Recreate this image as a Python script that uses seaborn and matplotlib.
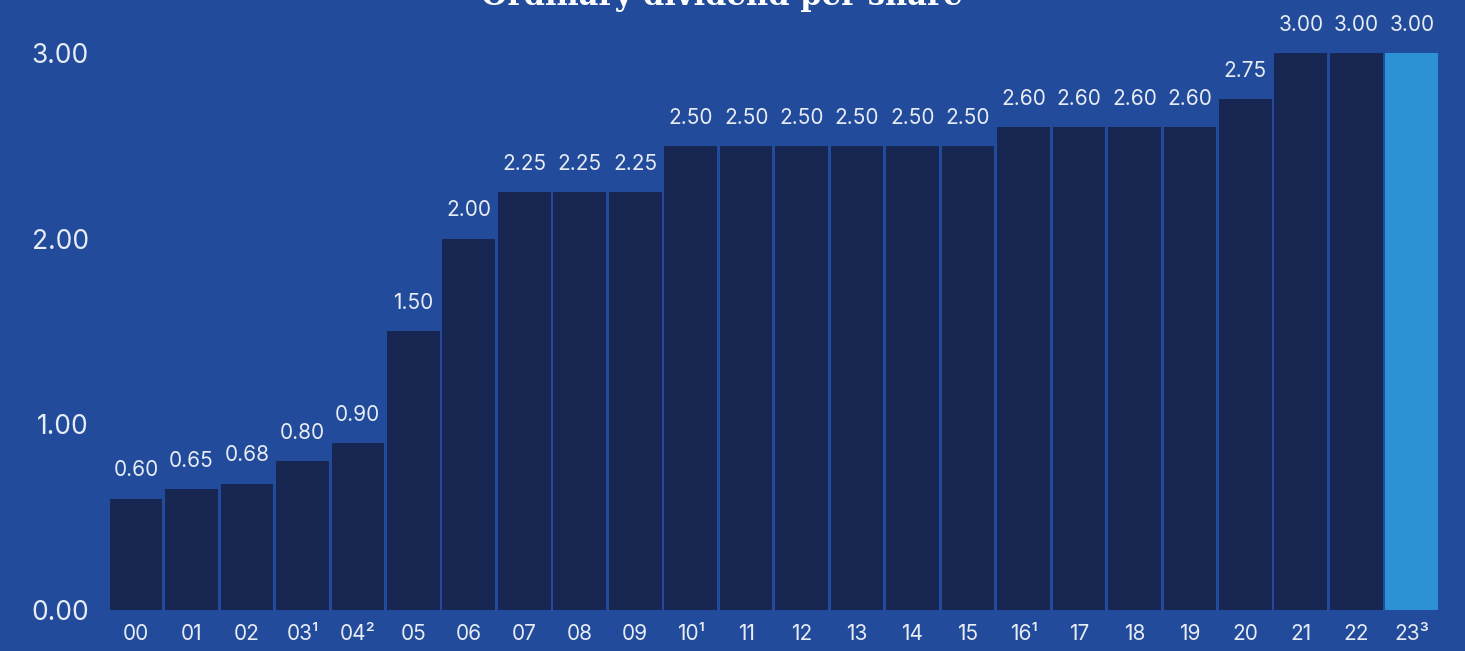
import matplotlib
matplotlib.use("Agg")
import matplotlib.pyplot as plt
import seaborn as sns
import pandas as pd

years = ["00", "01", "02", "03\u00b9", "04\u00b2", "05", "06", "07", "08", "09",
         "10\u00b9", "11", "12", "13", "14", "15", "16\u00b9", "17", "18", "19",
         "20", "21", "22", "23\u00b3"]
dividend = [0.60, 0.65, 0.68, 0.80, 0.90, 1.50, 2.00, 2.25, 2.25, 2.25,
            2.50, 2.50, 2.50, 2.50, 2.50, 2.50, 2.60, 2.60, 2.60, 2.60,
            2.75, 3.00, 3.00, 3.00]
y_ticks = [0, 1, 2, 3]

bg = "#224c9b"
navy = "#182652"
light = "#2c92d4"
txt = "#e8ecf4"

df = pd.DataFrame({"year": years, "dividend": dividend})
colors = [navy] * (len(years) - 1) + [light]

sns.set_theme(style="white")
plt.rcParams["font.family"] = ["Inter", "DejaVu Sans"]

fig = plt.figure(figsize=(14.65, 6.51), dpi=100, facecolor=bg)
ax = fig.add_axes([0.0739, 0.063, 0.9087, 0.937])
ax.set_facecolor(bg)

sns.barplot(data=df, x="year", y="dividend", hue="year", palette=colors,
            width=0.95, saturation=1, legend=False, linewidth=0, ax=ax)

for i, v in enumerate(dividend):
    ax.annotate(f"{v:.2f}", (i, v), xytext=(0, 16), textcoords="offset points",
                ha="center", va="baseline", color=txt, fontsize=15)

ax.set_xlim(-0.5, len(years) - 0.5)
ax.set_ylim(0, 3.285)
ax.set_yticks(y_ticks)
ax.set_yticklabels([f"{t:.2f}" for t in y_ticks])
ax.tick_params(axis="y", labelsize=19, colors=txt, length=0, pad=14)
ax.tick_params(axis="x", labelsize=15, colors=txt, length=0, pad=10)
ax.set_xlabel("")
ax.set_ylabel("")
for s in ax.spines.values():
    s.set_visible(False)

# title sits mostly above the canvas, as in the source image
fig.text(0.493, 1 - 5 / 651, "Ordinary dividend per share", ha="center",
         va="baseline", color="white", fontsize=22, fontweight="bold",
         family="DejaVu Serif")

fig.savefig("out.png", dpi=100, facecolor=bg)
